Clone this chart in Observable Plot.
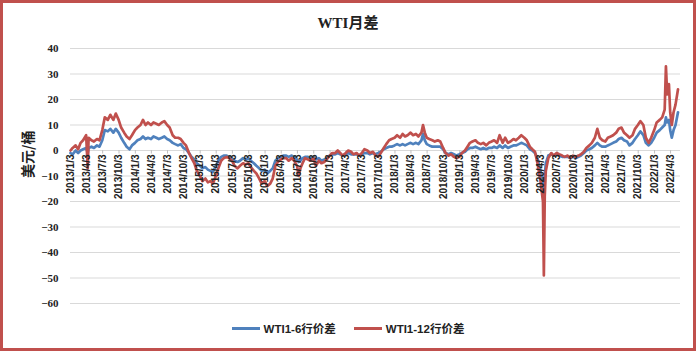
<!DOCTYPE html>
<html>
<head>
<meta charset="utf-8">
<script src="https://cdn.jsdelivr.net/npm/d3@7"></script>
<script src="https://cdn.jsdelivr.net/npm/@observablehq/plot@0.6"></script>
<style>
  html, body { margin: 0; padding: 0; background: #fff; }
  #frame { position: absolute; left: 0; top: 0; width: 696px; height: 351px; box-sizing: border-box; border: 3px solid #C0504D; background: #fff; }
  #title { position: absolute; left: 0; top: 11px; width: 696px; text-align: center; font: bold 15px "Liberation Serif", "Noto Sans CJK SC", serif; color: #222; }
  #chart { position: absolute; left: 0; top: 35px; }
  #legend { position: absolute; left: 0; top: 320px; width: 696px; display: flex; justify-content: center; gap: 18px; font: bold 11.5px "Liberation Sans", "Noto Sans CJK SC", sans-serif; color: #222; }
  .item { display: flex; align-items: center; }
  .sw { display: inline-block; width: 28px; height: 3px; margin-right: 4px; }
</style>
</head>
<body>
<div id="frame"></div>
<div id="title">WTI月差</div>
<div id="chart"></div>
<div id="legend"></div>
<script>
// ---- data ----
const seriesNames = ["WTI1-6行价差", "WTI1-12行价差"];
const seriesColors = ["#4F81BD", "#C0504D"];
const dates = [
"2013-01-03","2013-01-15","2013-02-01","2013-02-15","2013-03-01","2013-03-15","2013-04-01","2013-04-10","2013-04-15","2013-05-01","2013-05-15","2013-06-01","2013-06-15","2013-07-01","2013-07-15","2013-08-01","2013-08-15","2013-09-01","2013-09-15","2013-10-01","2013-10-15","2013-11-01","2013-11-15","2013-12-01","2013-12-15",
"2014-01-01","2014-01-15","2014-02-01","2014-02-15","2014-03-01","2014-03-15","2014-04-01","2014-04-15","2014-05-01","2014-05-15","2014-06-01","2014-06-15","2014-07-01","2014-07-15","2014-08-01","2014-08-15","2014-09-01","2014-09-15","2014-10-01","2014-10-15","2014-11-01","2014-11-15","2014-12-01","2014-12-15",
"2015-01-01","2015-01-15","2015-02-01","2015-02-15","2015-03-01","2015-03-15","2015-04-01","2015-04-15","2015-05-01","2015-05-15","2015-06-01","2015-06-15","2015-07-01","2015-07-15","2015-08-01","2015-08-15","2015-09-01","2015-09-15","2015-10-01","2015-10-15","2015-11-01","2015-11-15","2015-12-01","2015-12-15",
"2016-01-01","2016-01-15","2016-02-01","2016-02-15","2016-03-01","2016-03-15","2016-04-01","2016-04-15","2016-05-01","2016-05-15","2016-06-01","2016-06-15","2016-07-01","2016-07-10","2016-07-20","2016-08-01","2016-08-15","2016-09-01","2016-09-15","2016-10-01","2016-10-15","2016-11-01","2016-11-15","2016-12-01","2016-12-15",
"2017-01-01","2017-01-15","2017-02-01","2017-02-15","2017-03-01","2017-03-15","2017-04-01","2017-04-15","2017-05-01","2017-05-15","2017-06-01","2017-06-15","2017-07-01","2017-07-15","2017-08-01","2017-08-15","2017-09-01","2017-09-15","2017-10-01","2017-10-15","2017-11-01","2017-11-15","2017-12-01","2017-12-15",
"2018-01-01","2018-01-15","2018-02-01","2018-02-15","2018-03-01","2018-03-15","2018-04-01","2018-04-15","2018-05-01","2018-05-15","2018-06-01","2018-06-10","2018-06-20","2018-07-01","2018-07-15","2018-08-01","2018-08-15","2018-09-01","2018-09-15","2018-10-01","2018-10-15","2018-11-01","2018-11-15","2018-12-01","2018-12-15",
"2019-01-01","2019-01-15","2019-02-01","2019-02-15","2019-03-01","2019-03-15","2019-04-01","2019-04-15","2019-05-01","2019-05-15","2019-06-01","2019-06-15","2019-07-01","2019-07-15","2019-08-01","2019-08-15","2019-09-01","2019-09-15","2019-10-01","2019-10-15","2019-11-01","2019-11-15","2019-12-01","2019-12-15",
"2020-01-01","2020-01-15","2020-02-01","2020-02-15","2020-03-01","2020-03-15","2020-04-01","2020-04-15","2020-04-20","2020-04-25","2020-05-01","2020-05-15","2020-06-01","2020-06-15","2020-07-01","2020-07-15","2020-08-01","2020-08-15","2020-09-01","2020-09-15","2020-10-01","2020-10-15","2020-11-01","2020-11-15","2020-12-01","2020-12-15",
"2021-01-01","2021-01-15","2021-02-01","2021-02-15","2021-03-01","2021-03-15","2021-04-01","2021-04-15","2021-05-01","2021-05-15","2021-06-01","2021-06-15","2021-07-01","2021-07-15","2021-08-01","2021-08-15","2021-09-01","2021-09-15","2021-10-01","2021-10-15","2021-11-01","2021-11-15","2021-12-01","2021-12-15",
"2022-01-01","2022-01-15","2022-02-01","2022-02-15","2022-03-01","2022-03-08","2022-03-15","2022-03-25","2022-04-01","2022-04-10","2022-04-20","2022-05-01","2022-05-15"
];
const spread6 = [
-1,-1.5,0,-1,0,0.5,1,-1,1,1.5,1,2,1.5,4,8,7.5,8.5,7,8.5,7,5,3,1.5,0.5,2,
3,4,4.5,5.5,4.5,5,4.5,5.5,5,4.5,5,5.5,4.5,4,3,2.5,2,2.5,1,0.5,-1,-2.5,-3.5,-5,
-6,-7,-6.5,-7.5,-8,-8.5,-6,-4,-2.5,-2,-2,-2.5,-3,-4,-4.5,-4,-3,-3.5,-3,-4,-5,-6,-7,-8,
-7.5,-9,-8,-7,-4,-3,-2.5,-2,-2,-2.5,-2,-2.5,-3.5,-4.5,-4,-3,-2.5,-2.5,-3,-2.5,-3.5,-3,-4,-3.5,-3,
-2,-1.5,-1.5,-1,-1.5,-2,-1.5,-1,-1.5,-1.5,-1.5,-2,-1.5,-1,-1,-1.5,-1,-1.5,-1,-0.5,0.5,1,1.5,1.5,
2,2.5,2,2.5,2,2.5,3,2.5,3,2.5,4,6.5,4,2.5,2,1.5,1.5,1.5,1.5,0.5,-1,-1.5,-1,-1.5,-2,
-1.5,-1,-0.5,0.5,1,1,1.5,1,0.5,1,0.5,1,1,1.5,1,2,1,2,1,1.5,2,2,2.5,3,
2.5,2,0.5,0,-1,-3,-8,-12,-17,-10,-5,-2,-1.5,-2,-1.5,-2,-2.5,-2.5,-2.5,-3,-2.5,-3,-2.5,-2,-1,0,
0.5,1,2,3,2,1.5,1.5,2,2.5,3,3.5,4.5,5,4,3.5,2,3,4.5,6,7.5,6,3,2,3,
5,7,8,9,10,13,11,12,8,5,8,10,15
];
const spread12 = [
0,1,2,0.5,3,4,6,-7,5,4,3.5,4.5,4,8,13,12,14,12,14.5,12,9,7,5.5,4.5,6,
8,9,10,12,10,11,10,11,10.5,10,11,11.5,10,9,6,5,5,4.5,3,2,-1,-3,-5,-8,
-10,-12,-11,-12.5,-12,-13,-10,-7,-4,-3,-2.5,-3,-4,-6,-7,-6,-5,-5.5,-5,-6.5,-8,-9,-11,-13,
-12,-14,-13,-11,-6,-4.5,-3.5,-3,-3,-4,-3,-4,-6,-10,-7,-5,-3,-3.5,-4,-3,-6,-4,-5,-4.5,-3.5,
-2,-1,-1,0,-1,-2,-1,0,-0.5,-1.5,-1,-2,-1,0.5,0,-1,-0.5,-2,-2.5,-1,1,2.5,4,4.5,
5,6,5,6.5,5.5,6,7,6,6.5,5.5,7,10,7,5,4.5,4,3.5,4,3.5,1,-1,-2,-1.5,-2.5,-3,
-2.5,-1,0,1.5,3,3.5,4,3,2.5,3,2,3,3.5,4,3,6,3,5,3,3.5,4.5,4,5,6,
5,4,1.5,0.5,-0.5,-5,-12,-20,-49,-18,-8,-3,-1,-2,-1,-1.5,-2,-2.5,-2,-3,-2,-2.5,-2,-1.5,-0.5,1,
2,3,5,8.5,5,4,3.5,5,5.5,6,7,8.5,9,7,6,5,6,8.5,10,11.5,10,5,3,5,
8,11,12,13,16,33,22,26,15,10,15,18,24
];
const xTickLabels = [
"2013/1/3","2013/4/3","2013/7/3","2013/10/3","2014/1/3","2014/4/3","2014/7/3","2014/10/3",
"2015/1/3","2015/4/3","2015/7/3","2015/10/3","2016/1/3","2016/4/3","2016/7/3","2016/10/3",
"2017/1/3","2017/4/3","2017/7/3","2017/10/3","2018/1/3","2018/4/3","2018/7/3","2018/10/3",
"2019/1/3","2019/4/3","2019/7/3","2019/10/3","2020/1/3","2020/4/3","2020/7/3","2020/10/3",
"2021/1/3","2021/4/3","2021/7/3","2021/10/3","2022/1/3","2022/4/3"
];
const yTicks = [-60,-50,-40,-30,-20,-10,0,10,20,30,40];
const yTitle = "美元/桶";
const xDomain = ["2013-01-03", "2022-05-29"];

// ---- build ----
const parse = d3.utcParse("%Y-%m-%d");
const parseTick = d3.utcParse("%Y/%m/%d");
const rows = dates.map((d, i) => ({date: parse(d), s6: spread6[i], s12: spread12[i]}));
const ticks = xTickLabels.map(t => ({date: parseTick(t), label: t}));

const chart = Plot.plot({
  width: 696,
  height: 280,
  marginLeft: 70,
  marginRight: 16,
  marginTop: 13,
  marginBottom: 12,
  style: {fontFamily: "'Liberation Serif', 'Noto Sans CJK SC', serif", fontSize: "11px", color: "#222", background: "transparent"},
  x: {type: "utc", domain: xDomain.map(parse), axis: null},
  y: {domain: [-60, 40], axis: null},
  marks: [
    Plot.gridY(yTicks, {stroke: "#D9D9D9", strokeOpacity: 1, strokeWidth: 1.2}),
    Plot.axisY(yTicks, {tickSize: 0, tickPadding: 12, fontWeight: "bold", fontSize: 11, label: null, fill: "#222"}),
    Plot.ruleX(ticks, {x: "date", y1: 0, y2: -1.4, stroke: "#BFBFBF"}),
    Plot.lineY(rows, {x: "date", y: "s6", stroke: seriesColors[0], strokeWidth: 2.7}),
    Plot.lineY(rows, {x: "date", y: "s12", stroke: seriesColors[1], strokeWidth: 2.7}),
    Plot.text(ticks, {x: "date", y: () => 0, text: "label", rotate: -90, textAnchor: "end", dy: 4,
      fontSize: 10, fontWeight: "bold", fontFamily: "'Liberation Sans', sans-serif", fill: "#222"}),
    Plot.text([yTitle], {text: d => d, frameAnchor: "left", rotate: -90, dx: -42, dy: 2,
      fontSize: 14, fontWeight: "bold", fontFamily: "'Noto Sans CJK SC', sans-serif", fill: "#222"})
  ]
});
document.getElementById("chart").appendChild(chart);

const legend = document.getElementById("legend");
seriesNames.forEach((name, i) => {
  const item = document.createElement("div");
  item.className = "item";
  const sw = document.createElement("span");
  sw.className = "sw";
  sw.style.background = seriesColors[i];
  item.appendChild(sw);
  item.appendChild(document.createTextNode(name));
  legend.appendChild(item);
});
</script>
</body>
</html>
